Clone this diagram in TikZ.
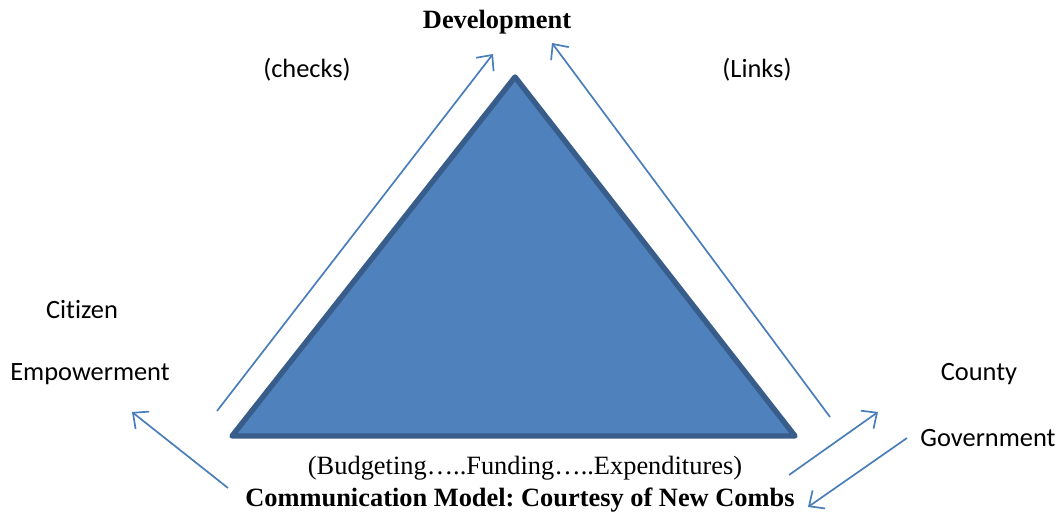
\documentclass[tikz,border=0pt]{standalone}
\usepackage{fontspec}
\setmainfont{Liberation Serif}
\newfontfamily\calibri[Ligatures=NoCommon]{Carlito}
\usetikzlibrary{arrows.meta}
\frenchspacing

\definecolor{tribody}{HTML}{4F81BD}
\definecolor{triedge}{HTML}{385D8A}
\definecolor{linkblue}{HTML}{4A7EBB}

\begin{document}
\begin{tikzpicture}[
    x=0.5pt, y=-0.5pt,
    lbl/.style={font=\calibri\fontsize{13.2}{15}\selectfont},
    title/.style={font=\bfseries\fontsize{13.2}{15}\selectfont},
    note/.style={font=\fontsize{13.2}{15}\selectfont},
    arr/.style={linkblue, line width=0.85pt, -{Straight Barb[length=6pt, width=11pt, line width=0.85pt]}}
]
\useasboundingbox (0,0) rectangle (1060,514);

% Triangle
\coordinate (tl) at (232,436);
\coordinate (tr) at (795,436);
\coordinate (tt) at (515,77);
\draw[fill=tribody, draw=triedge, line width=2.7pt, line join=round] (tl) -- (tt) -- (tr) -- cycle;

% Labels
\node[title] (dev) at (497,22) {Development};
\node[lbl] (chk) at (307,70) {(checks)};
\node[lbl] (lnk) at (757,70) {(Links)};
\node[lbl] (cit) at (82,310) {Citizen};
\node[lbl] (emp) at (90,374) {Empowerment};
\node[lbl] (cty) at (979,374) {County};
\node[lbl] (gov) at (988,438) {Government};
\node[note] (bud) at (525,468) {(Budgeting\dots..Funding\dots..Expenditures)};
\node[title] (cap) at (520,500) {Communication Model: Courtesy of New Combs};

% Arrows
\coordinate (a1) at (217,411);  \coordinate (b1) at (493,54);
\coordinate (a2) at (830,417);  \coordinate (b2) at (552,43);
\coordinate (a3) at (228,488);  \coordinate (b3) at (132,412);
\coordinate (a4) at (789,475);  \coordinate (b4) at (878,412);
\coordinate (a5) at (907,438);  \coordinate (b5) at (808,507);
\foreach \i in {1,...,5} {
    \draw[arr] (a\i) -- (b\i);
}
\end{tikzpicture}
\end{document}
